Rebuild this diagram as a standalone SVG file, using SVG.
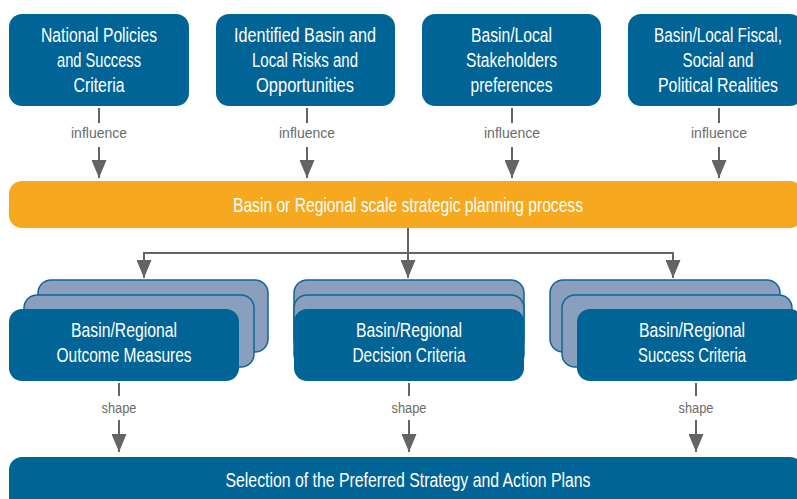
<svg xmlns="http://www.w3.org/2000/svg" width="797" height="499" viewBox="0 0 797 499">
<defs>
<style>
.box{fill:#016496;}
.stk{fill:#8A9FBD;stroke:#0F6697;stroke-width:1.5;}
.orange{fill:#F6A81E;}
.t{font-family:"Liberation Sans",Arial,sans-serif;fill:#ffffff;font-size:20px;text-anchor:middle;}
.lbl{font-family:"Liberation Sans",Arial,sans-serif;fill:#6b6b6b;font-size:15.5px;text-anchor:middle;}
.ln{stroke:#646464;stroke-width:2;fill:none;}
</style>
<marker id="ah" viewBox="0 0 18 15" refX="18" refY="7.5" markerWidth="18" markerHeight="15" markerUnits="userSpaceOnUse" orient="auto">
<path d="M0,0 L18,7.5 L0,15 Z" fill="#646464"/>
</marker>
</defs>
<rect width="797" height="499" fill="#ffffff"/>

<g id="n-national">
<rect class="box" x="9" y="14" width="180" height="92" rx="13"/>
<text class="t" x="99" y="41.5" textLength="116" lengthAdjust="spacingAndGlyphs">National Policies</text>
<text class="t" x="99" y="66.5" textLength="84" lengthAdjust="spacingAndGlyphs">and Success</text>
<text class="t" x="99" y="91.5" textLength="51" lengthAdjust="spacingAndGlyphs">Criteria</text>
</g>
<g id="n-risks">
<rect class="box" x="216" y="14" width="179" height="92" rx="13"/>
<text class="t" x="305" y="41.5" textLength="142" lengthAdjust="spacingAndGlyphs">Identified Basin and</text>
<text class="t" x="305" y="66.5" textLength="106" lengthAdjust="spacingAndGlyphs">Local Risks and</text>
<text class="t" x="305" y="91.5" textLength="98" lengthAdjust="spacingAndGlyphs">Opportunities</text>
</g>
<g id="n-stakeholders">
<rect class="box" x="422" y="14" width="179" height="92" rx="13"/>
<text class="t" x="511.5" y="41.5" textLength="81" lengthAdjust="spacingAndGlyphs">Basin/Local</text>
<text class="t" x="511.5" y="66.5" textLength="91" lengthAdjust="spacingAndGlyphs">Stakeholders</text>
<text class="t" x="511.5" y="91.5" textLength="82" lengthAdjust="spacingAndGlyphs">preferences</text>
</g>
<g id="n-fiscal">
<rect class="box" x="628" y="14" width="175" height="92" rx="13"/>
<text class="t" transform="translate(718 41.5) scale(0.77 1)" x="0" y="0" textLength="166" lengthAdjust="spacingAndGlyphs">Basin/Local Fiscal,</text>
<text class="t" transform="translate(718 66.5) scale(0.77 1)" x="0" y="0" textLength="92" lengthAdjust="spacingAndGlyphs">Social and</text>
<text class="t" transform="translate(718 91.5) scale(0.77 1)" x="0" y="0" textLength="156" lengthAdjust="spacingAndGlyphs">Political Realities</text>
</g>

<g id="n-process">
<rect class="orange" x="9" y="181" width="794" height="47" rx="13"/>
<text class="t" x="408" y="212" textLength="350" lengthAdjust="spacingAndGlyphs">Basin or Regional scale strategic planning process</text>
</g>

<g id="n-outcome">
<rect class="stk" x="38" y="280" width="230" height="72" rx="13"/>
<rect class="stk" x="24" y="295" width="230" height="72" rx="13"/>
<rect class="box" x="9" y="309" width="230" height="72" rx="13"/>
<text class="t" x="124" y="337" textLength="106" lengthAdjust="spacingAndGlyphs">Basin/Regional</text>
<text class="t" x="124" y="362" textLength="135" lengthAdjust="spacingAndGlyphs">Outcome Measures</text>
</g>
<g id="n-decision">
<rect class="stk" x="294" y="280" width="230" height="72" rx="13"/>
<rect class="stk" x="294" y="295" width="230" height="72" rx="13"/>
<rect class="box" x="294" y="309" width="230" height="72" rx="13"/>
<text class="t" x="409" y="337" textLength="106" lengthAdjust="spacingAndGlyphs">Basin/Regional</text>
<text class="t" x="409" y="362" textLength="113" lengthAdjust="spacingAndGlyphs">Decision Criteria</text>
</g>
<g id="n-success">
<rect class="stk" x="550" y="280" width="230" height="72" rx="13"/>
<rect class="stk" x="562" y="295" width="230" height="72" rx="13"/>
<rect class="box" x="577" y="309" width="226" height="72" rx="13"/>
<text class="t" x="692" y="337" textLength="106" lengthAdjust="spacingAndGlyphs">Basin/Regional</text>
<text class="t" x="692" y="362" textLength="108" lengthAdjust="spacingAndGlyphs">Success Criteria</text>
</g>

<g id="n-selection">
<rect class="box" x="9" y="457" width="794" height="60" rx="13"/>
<text class="t" x="408" y="487" textLength="365" lengthAdjust="spacingAndGlyphs">Selection of the Preferred Strategy and Action Plans</text>
</g>

<g id="connectors">
<line class="ln" x1="99" y1="108" x2="99" y2="123"/>
<text class="lbl" x="99" y="138" textLength="56" lengthAdjust="spacingAndGlyphs">influence</text>
<line class="ln" x1="99" y1="147" x2="99" y2="178" marker-end="url(#ah)"/>
<line class="ln" x1="307" y1="108" x2="307" y2="123"/>
<text class="lbl" x="307" y="138" textLength="56" lengthAdjust="spacingAndGlyphs">influence</text>
<line class="ln" x1="307" y1="147" x2="307" y2="178" marker-end="url(#ah)"/>
<line class="ln" x1="512" y1="108" x2="512" y2="123"/>
<text class="lbl" x="512" y="138" textLength="56" lengthAdjust="spacingAndGlyphs">influence</text>
<line class="ln" x1="512" y1="147" x2="512" y2="178" marker-end="url(#ah)"/>
<line class="ln" x1="719" y1="108" x2="719" y2="123"/>
<text class="lbl" x="719" y="138" textLength="56" lengthAdjust="spacingAndGlyphs">influence</text>
<line class="ln" x1="719" y1="147" x2="719" y2="178" marker-end="url(#ah)"/>

<line class="ln" x1="408" y1="228" x2="408" y2="253"/>
<line class="ln" x1="143" y1="253" x2="674" y2="253"/>
<line class="ln" x1="144" y1="253" x2="144" y2="278" marker-end="url(#ah)"/>
<line class="ln" x1="408" y1="253" x2="408" y2="278" marker-end="url(#ah)"/>
<line class="ln" x1="673" y1="253" x2="673" y2="278" marker-end="url(#ah)"/>

<line class="ln" x1="119" y1="383" x2="119" y2="396"/>
<text class="lbl" x="119" y="413" textLength="35" lengthAdjust="spacingAndGlyphs">shape</text>
<line class="ln" x1="119" y1="420" x2="119" y2="452" marker-end="url(#ah)"/>
<line class="ln" x1="409" y1="383" x2="409" y2="396"/>
<text class="lbl" x="409" y="413" textLength="35" lengthAdjust="spacingAndGlyphs">shape</text>
<line class="ln" x1="409" y1="420" x2="409" y2="452" marker-end="url(#ah)"/>
<line class="ln" x1="696" y1="383" x2="696" y2="396"/>
<text class="lbl" x="696" y="413" textLength="35" lengthAdjust="spacingAndGlyphs">shape</text>
<line class="ln" x1="696" y1="420" x2="696" y2="452" marker-end="url(#ah)"/>
</g>
</svg>
